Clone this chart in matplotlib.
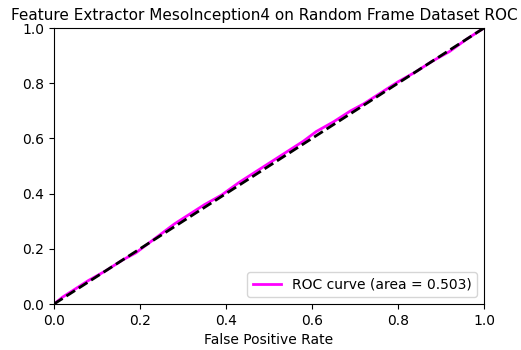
import matplotlib
matplotlib.use('Agg')
import matplotlib.pyplot as plt

# ROC curve points
fpr = [0.0, 0.02, 0.05, 0.08, 0.12, 0.16, 0.19, 0.22, 0.25, 0.28, 0.31, 0.35, 0.39,
       0.43, 0.47, 0.50, 0.54, 0.58, 0.61, 0.65, 0.69, 0.72, 0.76, 0.80, 0.84, 0.88,
       0.92, 0.96, 1.0]
tpr = [0.0, 0.025, 0.055, 0.085, 0.12, 0.16, 0.185, 0.22, 0.255, 0.29, 0.32, 0.36, 0.395,
       0.44, 0.48, 0.51, 0.55, 0.59, 0.625, 0.66, 0.70, 0.725, 0.765, 0.805, 0.84, 0.88,
       0.915, 0.96, 1.0]
roc_auc = 0.503
chance = [0.0, 1.0]

fig = plt.figure(figsize=(5.21, 3.5), dpi=100)
ax = fig.add_axes([0.1036, 0.1314, 0.8254, 0.7886])

ax.plot(fpr, tpr, color='magenta', lw=2, label='ROC curve (area = %0.3f)' % roc_auc)
ax.plot(chance, chance, color='black', lw=2, linestyle='--')
ax.set_xlim(0.0, 1.0)
ax.set_ylim(0.0, 1.0)
ax.set_xlabel('False Positive Rate')
ax.set_title('Feature Extractor MesoInception4 on Random Frame Dataset ROC',
             fontsize=11, x=0.49)
ax.legend(loc='lower right')

fig.savefig('out.png', dpi=100)
